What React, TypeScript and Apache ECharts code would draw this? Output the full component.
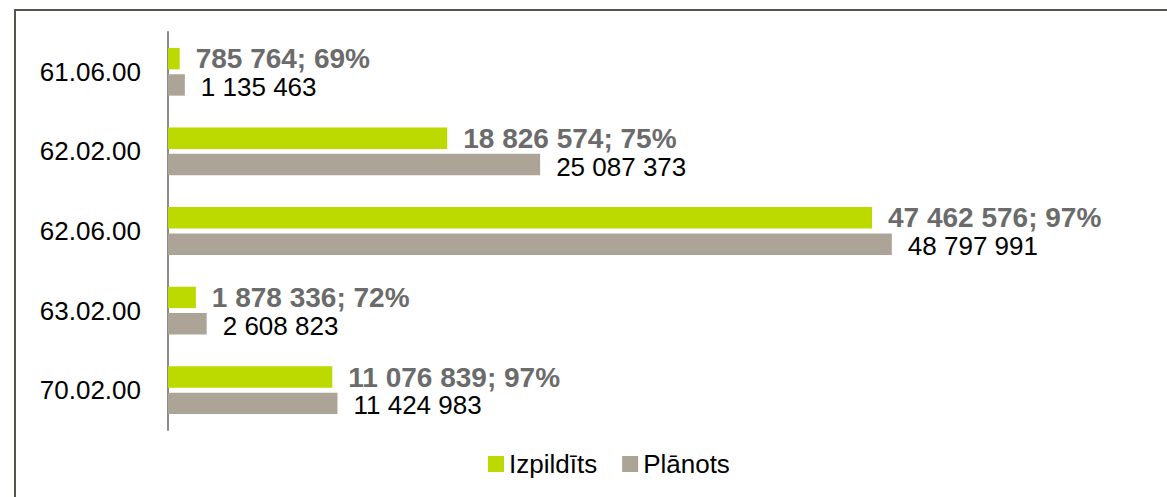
import React, { useEffect, useRef } from "react";
import * as echarts from "echarts";

const categories = ["61.06.00", "62.02.00", "62.06.00", "63.02.00", "70.02.00"];
const izpilditsValues = [785764, 18826574, 47462576, 1878336, 11076839];
const izpilditsPercents = [69, 75, 97, 72, 97];
const planotsValues = [1135463, 25087373, 48797991, 2608823, 11424983];
const seriesNames = ["Izpildīts", "Plānots"];

const fmt = (v: number) => String(Math.round(v)).replace(/\B(?=(\d{3})+(?!\d))/g, " ");

export default function App() {
  const ref = useRef<HTMLDivElement>(null);
  useEffect(() => {
    if (!ref.current) return;
    const chart = echarts.init(ref.current, null, { renderer: "svg" });
    const font = "'Liberation Sans', Arial, Helvetica, sans-serif";
    chart.setOption({
      animation: false,
      textStyle: { fontFamily: font },
      graphic: [
        {
          type: "rect",
          shape: { x: 15, y: 10, width: 1300, height: 700 },
          style: { fill: "none", stroke: "#57534d", lineWidth: 2 },
          silent: true,
        },
      ],
      grid: { left: 168, top: 32, width: 890, height: 398, containLabel: false },
      xAxis: {
        type: "value",
        min: 0,
        max: 60000000,
        show: false,
      },
      yAxis: {
        type: "category",
        data: categories,
        inverse: true,
        axisLine: { show: true, lineStyle: { color: "#8a8a8a", width: 2 } },
        axisTick: { show: false },
        axisLabel: { color: "#000", fontSize: 26, margin: 27, fontFamily: font },
      },
      legend: {
        left: 483,
        top: 446,
        itemWidth: 16,
        itemHeight: 16,
        itemGap: 25,
        itemTextGap: 7,
        icon: "rect",
        textStyle: { fontSize: 26, color: "#000", fontFamily: font },
        data: seriesNames,
      },
      series: [
        {
          name: seriesNames[0],
          type: "bar",
          data: izpilditsValues,
          barCategoryGap: "40%",
          barGap: "23%",
          itemStyle: { color: "#bcd900" },
          label: {
            show: true,
            position: "right",
            distance: 16,
            color: "#6b6b6b",
            fontWeight: "bold",
            fontSize: 28,
            lineHeight: 24,
            fontFamily: font,
            formatter: (p: any) => `${fmt(p.value)}; ${izpilditsPercents[p.dataIndex]}%`,
          },
        },
        {
          name: seriesNames[1],
          type: "bar",
          data: planotsValues,
          barCategoryGap: "40%",
          barGap: "23%",
          itemStyle: { color: "#ada498" },
          label: {
            show: true,
            position: "right",
            distance: 16,
            offset: [0, 2],
            color: "#000",
            fontSize: 26,
            lineHeight: 24,
            fontFamily: font,
            formatter: (p: any) => fmt(p.value),
          },
        },
      ],
    });
    return () => chart.dispose();
  }, []);
  return (
    <div
      ref={ref}
      style={{ position: "fixed", left: 0, top: 0, width: 1167, height: 497, background: "#fff" }}
    />
  );
}
